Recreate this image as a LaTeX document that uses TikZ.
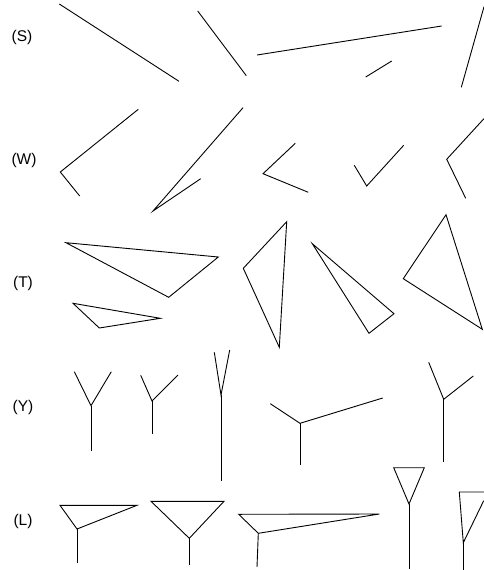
\documentclass[tikz,border=0pt]{standalone}
\usepackage{fontspec}
\setmainfont{Liberation Sans}
\usepackage{tikz}
\usetikzlibrary{positioning, calc}

\tikzset{
  rowlabel/.style={font=\fontsize{15.5}{18}\selectfont, inner sep=0pt},
  stroke/.style={black, line width=0.9pt, line join=miter}
}

\begin{document}
\begin{tikzpicture}[x=1pt, y=-1pt]
    \useasboundingbox (0,0) rectangle (484,570);

    % Row labels
    \node[rowlabel] (labS) at (22,37) {(S)};
    \node[rowlabel] (labW) at (24,160.5) {(W)};
    \node[rowlabel] (labT) at (23,283) {(T)};
    \node[rowlabel] (labY) at (23,407.5) {(Y)};
    \node[rowlabel] (labL) at (23,521.5) {(L)};

    % (S) single segments
    \foreach \xa/\ya/\xb/\yb in {59.3/4/179/81.3, 197.7/11/246.3/75.7,
                                 257/55/441.7/26, 365.7/77/391.7/61,
                                 484/6.7/461.3/87.3} {
        \draw[stroke] (\xa,\ya) -- (\xb,\yb);
    }

    % (W) two segments meeting at a corner
    \draw[stroke] (138.3,109.3) -- (60.3,172) -- (79.7,196);
    \draw[stroke] (243,107.7) -- (153,211) -- (200.7,178.7);
    \draw[stroke] (295.3,143.3) -- (263,173.7) -- (308.3,192.3);
    \draw[stroke] (354.3,165.3) -- (366.7,186) -- (403.7,145.3);
    \draw[stroke] (484,118.6) -- (446.7,159.3) -- (465.7,198.3);

    % (T) triangles
    \draw[stroke] (66,242.7) -- (218.3,257) -- (168.7,297.3) -- cycle;
    \draw[stroke] (73,303.3) -- (160.3,318.3) -- (99.3,328) -- cycle;
    \draw[stroke] (286.7,221.7) -- (243.3,268.3) -- (279.3,347.3) -- cycle;
    \draw[stroke] (312.3,243.7) -- (394,313.7) -- (369,333.3) -- cycle;
    \draw[stroke] (446,214.7) -- (403.3,278.7) -- (482.3,329.3) -- cycle;

    % (Y) junction, two arms and a stem
    \foreach \jx/\jy/\ax/\ay/\bx/\by/\sx/\sy in {
        91/405.7/74.3/371.7/111.3/371.7/91/450.7,
        152/401/140.7/375.3/178/375/152/434,
        221/395/214.3/352.3/229.7/350/221/480.7,
        300/423.3/270.3/403.7/382.7/398/300/465,
        443.7/399.3/428.7/362.3/473.3/376/443.7/462.3} {
        \draw[stroke] (\ax,\ay) -- (\jx,\jy) -- (\bx,\by);
        \draw[stroke] (\jx,\jy) -- (\sx,\sy);
    }

    % (L) triangle on a stem
    \foreach \ax/\ay/\bx/\by/\jx/\jy/\sx/\sy in {
        60/505.3/137/505.3/77/529/77/563,
        151/501.3/224/501.3/189.3/538.3/189.3/565.3,
        238.7/514.3/379.3/514/258.3/533.3/257/567,
        393.7/467.7/424.3/467.7/409/504/409/568.7} {
        \draw[stroke] (\ax,\ay) -- (\bx,\by) -- (\jx,\jy) -- cycle;
        \draw[stroke] (\jx,\jy) -- (\sx,\sy);
    }
    \draw[stroke] (484,492) -- (459.3,492) -- (463.3,542.7) -- (483.7,500.7);
    \draw[stroke] (463.3,542.7) -- (463.3,570);
\end{tikzpicture}
\end{document}
